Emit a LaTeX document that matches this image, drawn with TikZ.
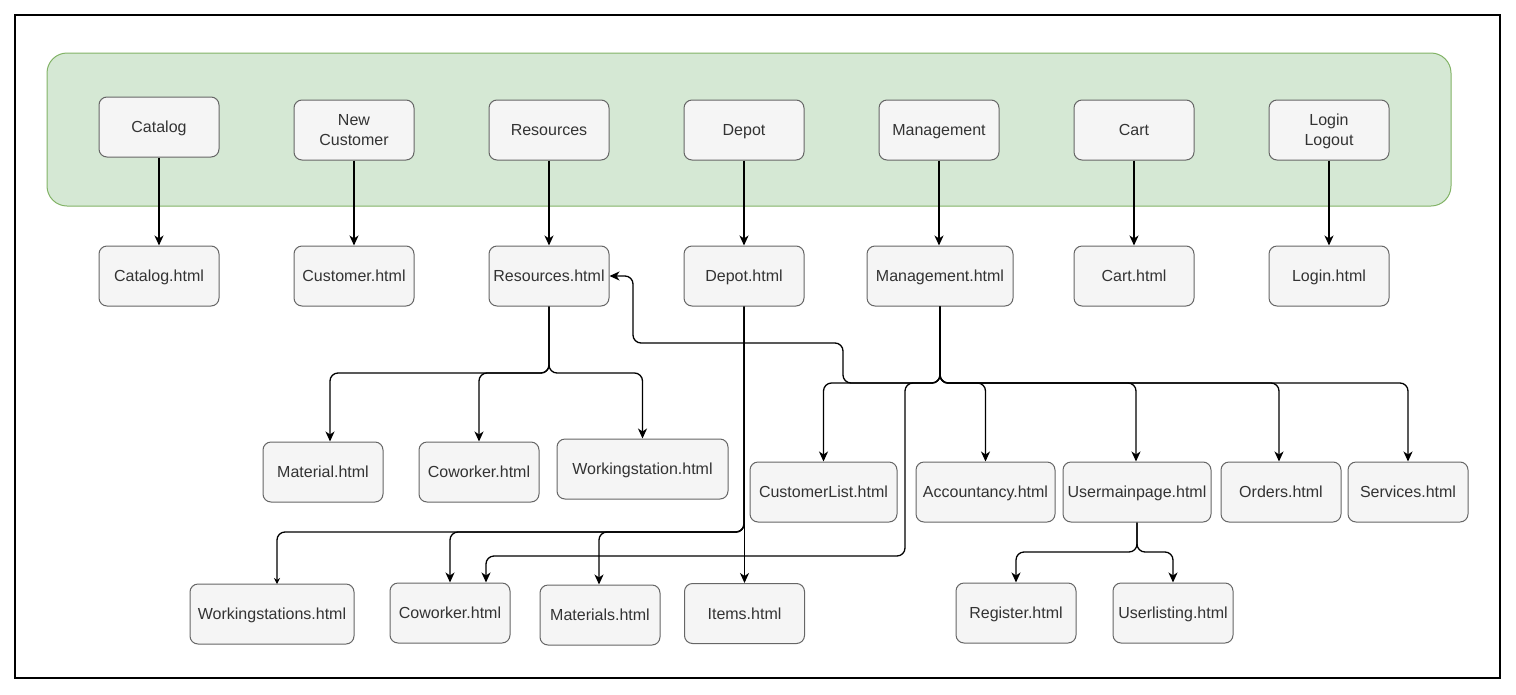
\documentclass[tikz,border=0pt]{standalone}
\usepackage{fontspec}
\setmainfont{Liberation Sans}
\usetikzlibrary{arrows.meta,calc}
\definecolor{boxfill}{HTML}{F5F5F5}
\definecolor{boxline}{HTML}{666666}
\definecolor{boxtext}{HTML}{333333}
\definecolor{grpfill}{HTML}{D5E8D4}
\definecolor{grpline}{HTML}{82B366}
\begin{document}
\begin{tikzpicture}[x=1pt,y=-1pt,
  page/.style={draw=boxline, fill=boxfill, rounded corners=8pt, line width=1pt,
    minimum width=120pt, minimum height=60pt, text=boxtext,
    font=\fontsize{16}{20}\selectfont, align=center, inner sep=2pt,
    text height=11.6pt, text depth=0pt},
  twoline/.style={text height=31.6pt},
  conn/.style={draw=black, line width=1.3pt, rounded corners=8pt,
    -{Stealth[length=10pt,width=9pt,inset=3pt]}}]
\useasboundingbox (0,0) rectangle (1516,694);
\draw[line width=1.2pt] (15,15) rectangle (1500,678);
\draw[draw=grpline, fill=grpfill, rounded corners=20pt, line width=1pt] (47,53) rectangle (1451,206);

% top row
\node[page] (cat)   at (159,127) {Catalog};
\node[page, twoline] (newc)  at (354,130) {New\\Customer};
\node[page] (res)   at (549,130) {Resources};
\node[page] (dep)   at (744,130) {Depot};
\node[page] (mgmt)  at (939,130) {Management};
\node[page] (cart)  at (1134,130) {Cart};
\node[page, twoline] (login) at (1329,130) {Login\\Logout};

% second row
\node[page] (cath)   at (159,276) {Catalog.html};
\node[page] (custh)  at (354,276) {Customer.html};
\node[page] (resh)   at (549,276) {Resources.html};
\node[page] (deph)   at (744,276) {Depot.html};
\node[page, minimum width=146pt] (mgh) at (940,276) {Management.html};
\node[page] (carth)  at (1134,276) {Cart.html};
\node[page] (loginh) at (1329,276) {Login.html};

% resources children
\node[page] (mat)  at (323,472) {Material.html};
\node[page] (cow1) at (479,472) {Coworker.html};
\node[page, minimum width=171pt] (ws1) at (642.5,469) {Workingstation.html};

% management children
\node[page, minimum width=147pt] (cl)  at (823.5,492) {CustomerList.html};
\node[page, minimum width=139pt] (acc) at (985.5,492) {Accountancy.html};
\node[page, minimum width=148pt] (ump) at (1137,492) {Usermainpage.html};
\node[page] (ord)  at (1281,492) {Orders.html};
\node[page] (serv) at (1408,492) {Services.html};

% bottom row
\node[page, minimum width=164pt] (ws2) at (272,614) {Workingstations.html};
\node[page] (cow2)  at (450,613) {Coworker.html};
\node[page] (mats)  at (600,615) {Materials.html};
\node[page] (items) at (744.5,613.5) {Items.html};
\node[page] (reg)   at (1016,613) {Register.html};
\node[page] (ul)    at (1173,613) {Userlisting.html};

% top to html
\draw[conn] (cat) -- (cath);
\draw[conn] (newc) -- (custh);
\draw[conn] (res) -- (resh);
\draw[conn] (dep) -- (deph);
\draw[conn] (mgmt.south) -- (mgmt.south |- mgh.north);
\draw[conn] (cart) -- (carth);
\draw[conn] (login) -- (loginh);

% resources children
\coordinate (rj) at (549,373);
\draw[conn] (resh.south) -- (rj) -| ($(mat.north)+(7,0)$);
\draw[conn] (resh.south) -- (rj) -| (cow1.north);
\draw[conn] (resh.south) -- (rj) -| (ws1.north);

% management children
\coordinate (mj) at (940,383);
\draw[conn] (mgh.south) -- (mj) -| (cl.north);
\draw[conn] (mgh.south) -- (mj) -| (acc.north);
\draw[conn] (mgh.south) -- (mj) -| ($(ump.north)+(-1,0)$);
\draw[conn] (mgh.south) -- (mj) -| ($(ord.north)+(-2,0)$);
\draw[conn] (mgh.south) -- (mj) -| (serv.north);
\draw[conn] (mgh.south) -- (mj) -- (843,383) -- (843,343) -- (633,343) -- (633,276) -- (resh.east);
\draw[conn] (mgh.south) -- (mj) -- (905,383) -- (905,556) -| ($(cow2.north)+(36,0)$);

% depot children
\coordinate (dj) at (744,532);
\draw[conn, -{Stealth[length=6pt,width=6pt,inset=2pt]}] (deph.south) -- (dj) -| (277,584);
\draw[conn] (deph.south) -- (dj) -| (cow2.north);
\draw[conn] (deph.south) -- (dj) -| ($(mats.north)+(-1,0)$);
\draw[conn] (deph.south -| items.north) -- (items.north);

% usermainpage children
\coordinate (uj) at (1137,552);
\draw[conn] (ump.south) -- (uj) -| (reg.north);
\draw[conn] (ump.south) -- (uj) -| (ul.north);
\end{tikzpicture}
\end{document}
